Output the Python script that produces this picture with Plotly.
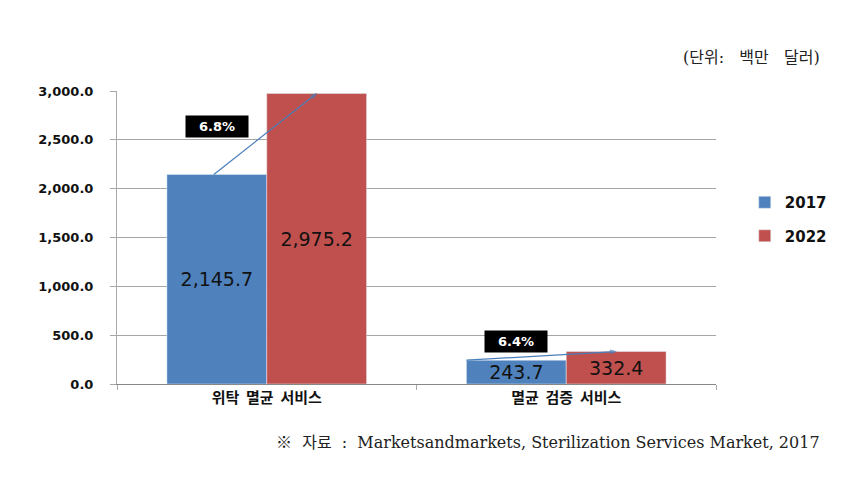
import plotly.graph_objects as go

categories = ["위탁 멸균 서비스", "멸균 검증 서비스"]
series_names = ["2017", "2022"]
values_2017 = [2145.7, 243.7]
values_2022 = [2975.2, 332.4]
cagr_labels = ["6.8%", "6.4%"]
y_ticks = [0, 500, 1000, 1500, 2000, 2500, 3000]

blue = "#4F81BD"
red = "#C0504D"
line_col = "#4A7EBB"
NB = "\u00a0"

xpos = list(range(len(categories)))

fig = go.Figure()
fig.add_trace(go.Bar(
    x=xpos, y=values_2017, name=series_names[0], marker_color=blue,
    text=[f"{v:,.1f}" for v in values_2017], textposition="inside",
    insidetextanchor="middle", constraintext="none",
    textfont=dict(family="DejaVu Sans", size=19, color="#111111"),
    legendgroup="a", hoverinfo="skip",
))
fig.add_trace(go.Bar(
    x=xpos, y=values_2022, name=series_names[1], marker_color=red,
    text=[f"{v:,.1f}" for v in values_2022], textposition="inside",
    insidetextanchor="middle", constraintext="none",
    textfont=dict(family="DejaVu Sans", size=19, color="#111111"),
    legendgroup="b", hoverinfo="skip",
))

# growth lines from 2017 value to 2022 value
start_off = [-1/6 - 0.01, -1/3]
for i in xpos:
    fig.add_trace(go.Scatter(
        x=[i + start_off[i], i + 1/6], y=[values_2017[i], values_2022[i]],
        mode="lines+markers", line=dict(color=line_col, width=1.2),
        marker=dict(symbol=["circle", "arrow"], size=[0, 6], angleref="previous",
                    color=line_col, line=dict(width=1, color=line_col)),
        showlegend=False, hoverinfo="skip",
    ))

label_y = [2640, 440]
for i in xpos:
    fig.add_annotation(
        x=i - 1/6, y=label_y[i], xref="x", yref="y", text=cagr_labels[i],
        showarrow=False, bgcolor="#000000", width=58, height=17, borderpad=2,
        font=dict(family="DejaVu Sans", size=13, color="white", weight="bold"),
    )

fig.add_annotation(
    x=1.177, y=1.113, xref="paper", yref="paper", xanchor="right", yanchor="middle",
    text=f"(단위:{NB*3}백만{NB*3}달러)", showarrow=False,
    font=dict(family="DejaVu Serif, Noto Sans CJK KR", size=16, color="#222"),
)
fig.add_annotation(
    x=1.177, y=-0.201, xref="paper", yref="paper", xanchor="right", yanchor="middle",
    text=f"※{NB}{NB}자료{NB}{NB}:{NB}{NB}Marketsandmarkets, Sterilization Services Market, 2017",
    showarrow=False,
    font=dict(family="DejaVu Serif, Noto Sans CJK KR", size=16, color="#222"),
)

fig.update_layout(
    width=866, height=486,
    margin=dict(l=117, r=150, t=91, b=102),
    paper_bgcolor="white", plot_bgcolor="white",
    barmode="group", bargap=1/3, bargroupgap=0,
    showlegend=True,
    legend=dict(x=1.048, y=0.563, xanchor="left", yanchor="middle",
                traceorder="grouped", tracegroupgap=11,
                font=dict(family="DejaVu Sans", size=15, color="#111", weight="bold"),
                itemwidth=30, bgcolor="rgba(0,0,0,0)"),
    xaxis=dict(range=[-0.5, 1.5], tickvals=xpos,
               ticktext=[c.replace(" ", NB + NB) for c in categories],
               ticks="", showgrid=False, zeroline=False,
               showline=True, linecolor="#888", linewidth=1,
               tickfont=dict(family="Noto Sans CJK KR", size=15, color="#111", weight="bold"),
               minor=dict(tickvals=[-0.5, 0.5, 1.5], ticks="outside", ticklen=5,
                          tickcolor="#aaa", showgrid=False)),
    yaxis=dict(range=[0, 3000], tickvals=y_ticks, tickformat=",.1f",
               showgrid=True, gridcolor="#a6a6a6", gridwidth=1,
               zeroline=False, showline=True, linecolor="#aaa", linewidth=1,
               ticks="outside", ticklen=6, tickcolor="#a6a6a6", ticklabelstandoff=14,
               tickfont=dict(family="DejaVu Sans", size=13, color="#111", weight="bold")),
)

fig.write_html("out.html")
